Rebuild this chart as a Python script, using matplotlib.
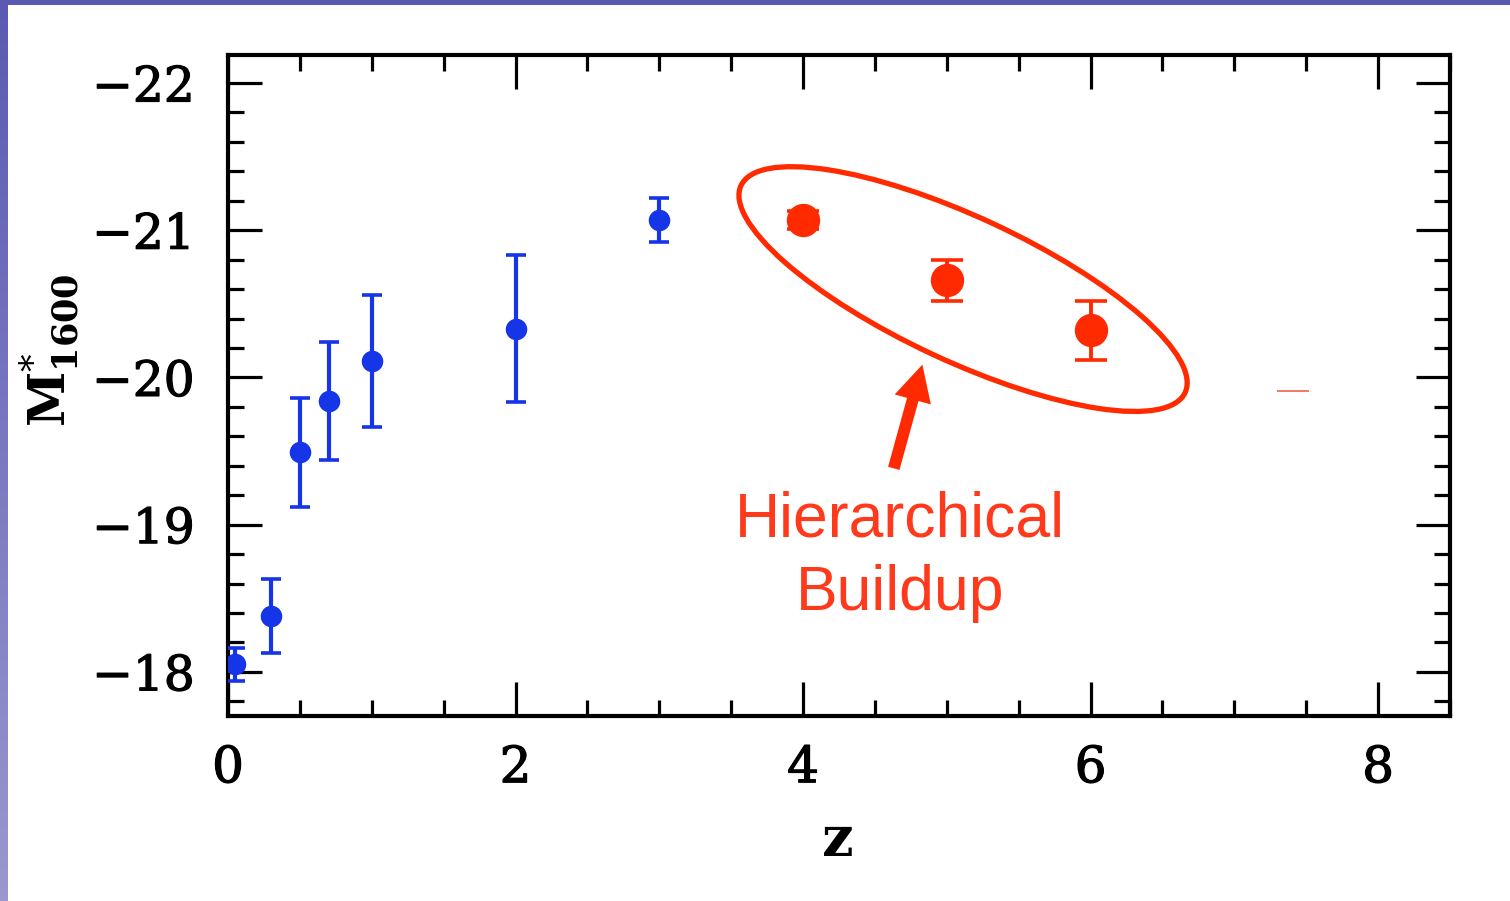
import numpy as np
import matplotlib
matplotlib.use("Agg")
import matplotlib.pyplot as plt
import matplotlib.patheffects as pe
from matplotlib.patches import Ellipse, FancyArrowPatch, Rectangle
from matplotlib.transforms import ScaledTranslation
from matplotlib.ticker import MultipleLocator

# Characteristic UV magnitude M*_1600 versus redshift
z_low = [0.05, 0.30, 0.50, 0.70, 1.00, 2.00, 3.00]
m_low = [-18.05, -18.38, -19.49, -19.84, -20.11, -20.33, -21.07]
err_low = [0.11, 0.25, 0.37, 0.40, 0.45, 0.50, 0.15]

z_high = [4.00, 5.00, 6.00]
m_high = [-21.07, -20.66, -20.32]
err_high = [0.06, 0.14, 0.20]

# faint stray segment near z~7.4
stray_z = [7.30, 7.52]
stray_m = -19.91

x_ticks = [0, 2, 4, 6, 8]
y_ticks = [-22, -21, -20, -19, -18]

BLUE = "#1634e8"
RED = "#ff2a00"

W, H, DPI = 15.1, 9.01, 100
fig = plt.figure(figsize=(W, H), dpi=DPI)
fig.patch.set_facecolor("white")

# slide-style border: solid top strip, gradient left strip
fig.patches.append(Rectangle((0, 1 - 5 / 901), 1, 5 / 901, transform=fig.transFigure,
                             facecolor="#5a5ab2", edgecolor="none", zorder=0))
grad_ax = fig.add_axes([0, 0, 8 / 1510, 1])
grad = np.linspace(0, 1, 256).reshape(-1, 1)
top_c = np.array([90, 90, 178]) / 255
bot_c = np.array([154, 152, 206]) / 255
img = top_c[None, None, :] * (1 - grad[:, :, None]) + bot_c[None, None, :] * grad[:, :, None]
grad_ax.imshow(img, aspect="auto", extent=[0, 1, 0, 1])
grad_ax.set_axis_off()

ax = fig.add_axes([228 / 1510, 185 / 901, 1222 / 1510, 661 / 901])
ax.set_xlim(0, 8.5)
ax.set_ylim(-17.70, -22.19)

ax.errorbar(z_low, m_low, yerr=err_low, fmt="o", color=BLUE, ms=14.5,
            elinewidth=3.0, capsize=7.2, capthick=2.6, zorder=3)
ax.errorbar(z_high, m_high, yerr=err_high, fmt="o", color=RED, ms=23,
            elinewidth=2.8, capsize=11.5, capthick=2.6, zorder=3)
ax.hlines(stray_m, stray_z[0], stray_z[1], color="#f07a66", lw=1.4, zorder=2)

# frame and ticks
for sp in ax.spines.values():
    sp.set_linewidth(3.0)
ax.xaxis.set_major_locator(MultipleLocator(2))
ax.xaxis.set_minor_locator(MultipleLocator(0.5))
ax.yaxis.set_major_locator(MultipleLocator(1))
ax.yaxis.set_minor_locator(MultipleLocator(0.2))
ax.tick_params(which="both", direction="in", top=True, right=True, colors="black")
ax.tick_params(which="major", length=24.5, width=2.3)
ax.tick_params(which="minor", length=11.5, width=2.3)
ax.set_xticks(x_ticks)
ax.set_yticks(y_ticks)
ax.set_xticklabels([str(v) for v in x_ticks], fontfamily="DejaVu Serif", fontsize=36)
ax.set_yticklabels(["\u2212" + str(abs(v)) for v in y_ticks], fontfamily="DejaVu Serif", fontsize=35)
ax.tick_params(axis="x", pad=20)
ax.tick_params(axis="y", pad=24)
heavier = [pe.withStroke(linewidth=0.9, foreground="black")]
for lab in ax.get_xticklabels() + ax.get_yticklabels():
    lab.set_path_effects(heavier)

plt.rcParams["mathtext.fontset"] = "dejavuserif"
fig.text(50 / 1510, 1 - 350 / 901, r"$\mathbf{M}^{*}_{\mathbf{1600}}$", rotation=90,
         ha="center", va="center", fontsize=36, fontweight="bold")
fig.text(838 / 1510, 1 - 841 / 901, "z", ha="center", va="center", fontsize=40,
         fontweight="bold", fontfamily="DejaVu Serif")

# grouping ellipse around the high-redshift points (size in inches, centred in data space)
ell = Ellipse((0, 0), width=4.90, height=1.44, angle=-25, fill=False, edgecolor=RED,
              lw=3.8, transform=fig.dpi_scale_trans + ScaledTranslation(5.113, -20.60, ax.transData),
              zorder=4)
ax.add_patch(ell)

arrow = FancyArrowPatch((4.626, -19.364), (4.835, -20.105),
                        arrowstyle="simple,head_length=2.6,head_width=2.7,tail_width=0.85",
                        mutation_scale=10, color=RED, lw=0, zorder=4)
ax.add_patch(arrow)

ax.text(4.675, -18.916, "Hierarchical", ha="center", va="baseline", color="#ff3a1c",
        fontsize=45, fontfamily="Liberation Sans")
ax.text(4.675, -18.42, "Buildup", ha="center", va="baseline", color="#ff3a1c",
        fontsize=45, fontfamily="Liberation Sans")

fig.savefig("out.png", dpi=DPI)
